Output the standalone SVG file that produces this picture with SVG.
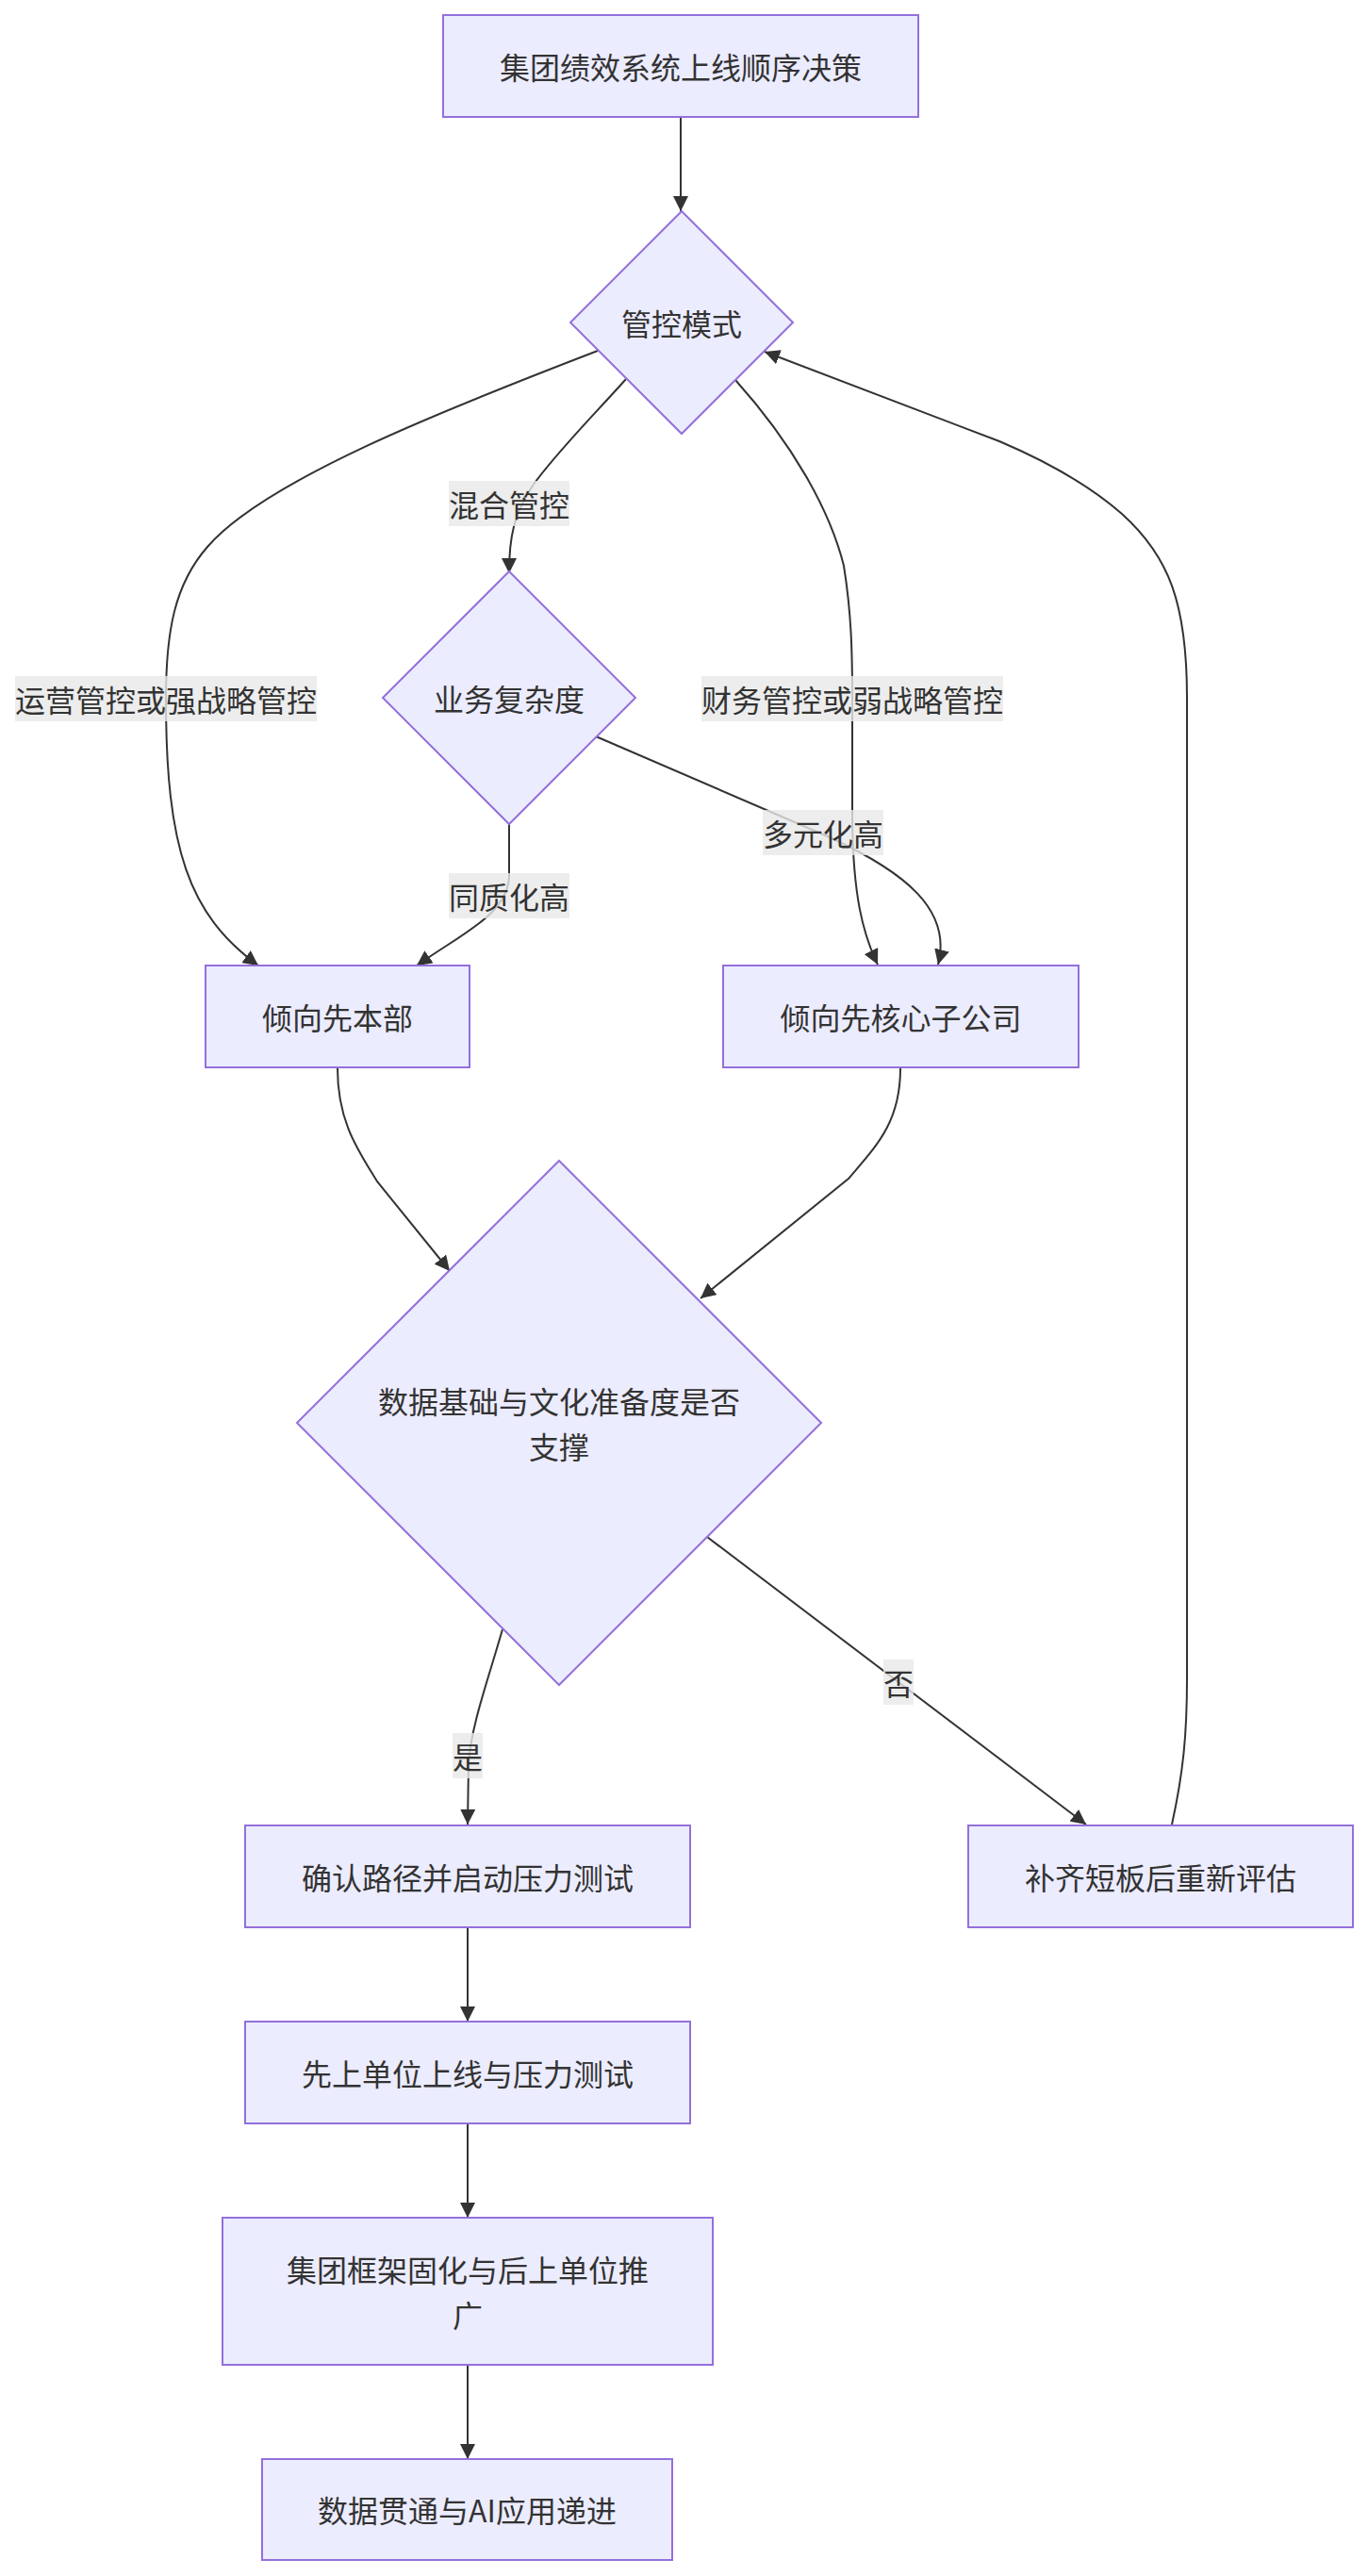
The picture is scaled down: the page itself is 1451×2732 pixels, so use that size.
<svg xmlns="http://www.w3.org/2000/svg" width="1451" height="2732" viewBox="0 0 1451 2732">
<style>
.node{fill:#ECECFF;stroke:#9370DB;stroke-width:2}
.edge{fill:none;stroke:#333333;stroke-width:2}
.t{font-family:"Noto Sans CJK SC","Noto Sans",sans-serif;font-size:32px;fill:#333333;text-anchor:middle;dominant-baseline:central}
.lbl{fill:rgba(232,232,232,0.8)}
</style>
<defs>
<marker id="arr" viewBox="0 0 10 10" refX="10" refY="5" markerUnits="userSpaceOnUse" markerWidth="16" markerHeight="16" orient="auto">
<path d="M0,0 L10,5 L0,10 z" fill="#333333"/>
</marker>
</defs>
<rect width="1451" height="2732" fill="#ffffff"/>
<g id="edges">
<path class="edge" marker-end="url(#arr)" d="M722,124 L722,224"/>
<path class="edge" marker-end="url(#arr)" d="M634,372 C470,435 280,510 220,580 C185,620 176,670 176,741 C176,900 200,970 274,1024"/>
<path class="edge" marker-end="url(#arr)" d="M664,402 C630,440 590,480 565,515 C545,545 540,570 540,608"/>
<path class="edge" marker-end="url(#arr)" d="M780,403 C840,470 880,540 895,600 C903,650 904,690 904,741 L904,870 C905,950 915,990 931,1023"/>
<path class="edge" marker-end="url(#arr)" d="M540,874 L540,930 C538,970 490,990 442,1024"/>
<path class="edge" marker-end="url(#arr)" d="M632,781 L880,888 C960,925 1010,965 995,1023"/>
<path class="edge" marker-end="url(#arr)" d="M358,1133 C358,1190 380,1220 400,1253 L477,1348"/>
<path class="edge" marker-end="url(#arr)" d="M955,1133 C955,1190 930,1215 900,1250 L743,1377"/>
<path class="edge" marker-end="url(#arr)" d="M533,1728 C515,1790 500,1830 497,1870 L496,1935"/>
<path class="edge" marker-end="url(#arr)" d="M750,1630 L1152,1935"/>
<path class="edge" marker-end="url(#arr)" d="M1243,1935 C1255,1880 1259,1840 1259,1780 L1259,740 C1259,640 1240,590 1190,545 C1150,510 1100,485 1060,468 L811,373"/>
<path class="edge" marker-end="url(#arr)" d="M496,2044 L496,2144"/>
<path class="edge" marker-end="url(#arr)" d="M496,2252 L496,2352"/>
<path class="edge" marker-end="url(#arr)" d="M496,2508 L496,2608"/>
</g>
<g id="edge-labels">
<g><rect class="lbl" x="476" y="510" width="128" height="48"/><text class="t" x="540" y="534">混合管控</text></g>
<g><rect class="lbl" x="16" y="717" width="320" height="48"/><text class="t" x="176" y="741">运营管控或强战略管控</text></g>
<g><rect class="lbl" x="744" y="717" width="320" height="48"/><text class="t" x="904" y="741">财务管控或弱战略管控</text></g>
<g><rect class="lbl" x="809" y="859" width="128" height="48"/><text class="t" x="873" y="883">多元化高</text></g>
<g><rect class="lbl" x="476" y="926" width="128" height="48"/><text class="t" x="540" y="950">同质化高</text></g>
<g><rect class="lbl" x="480" y="1838" width="32" height="48"/><text class="t" x="496" y="1862">是</text></g>
<g><rect class="lbl" x="937" y="1760" width="32" height="48"/><text class="t" x="953" y="1784">否</text></g>
</g>
<g id="n-start"><rect class="node" x="470" y="16" width="504" height="108"/><text class="t" x="722" y="70">集团绩效系统上线顺序决策</text></g>
<g id="n-mode"><polygon class="node" points="723,224 841,342 723,460 605,342"/><text class="t" x="723" y="342">管控模式</text></g>
<g id="n-complex"><polygon class="node" points="540,606 674,740 540,874 406,740"/><text class="t" x="540" y="740">业务复杂度</text></g>
<g id="n-hq"><rect class="node" x="218" y="1024" width="280" height="108"/><text class="t" x="358" y="1078">倾向先本部</text></g>
<g id="n-sub"><rect class="node" x="767" y="1024" width="377" height="108"/><text class="t" x="955.5" y="1078">倾向先核心子公司</text></g>
<g id="n-data"><polygon class="node" points="593,1231 871,1509 593,1787 315,1509"/><text class="t" x="593" y="1485">数据基础与文化准备度是否</text><text class="t" x="593" y="1533">支撑</text></g>
<g id="n-confirm"><rect class="node" x="260" y="1936" width="472" height="108"/><text class="t" x="496" y="1990">确认路径并启动压力测试</text></g>
<g id="n-fix"><rect class="node" x="1027" y="1936" width="408" height="108"/><text class="t" x="1231" y="1990">补齐短板后重新评估</text></g>
<g id="n-first"><rect class="node" x="260" y="2144" width="472" height="108"/><text class="t" x="496" y="2198">先上单位上线与压力测试</text></g>
<g id="n-frame"><rect class="node" x="236" y="2352" width="520" height="156"/><text class="t" x="496" y="2406">集团框架固化与后上单位推</text><text class="t" x="496" y="2454">广</text></g>
<g id="n-ai"><rect class="node" x="278" y="2608" width="435" height="107"/><text class="t" x="495.5" y="2661">数据贯通与AI应用递进</text></g>
</svg>
